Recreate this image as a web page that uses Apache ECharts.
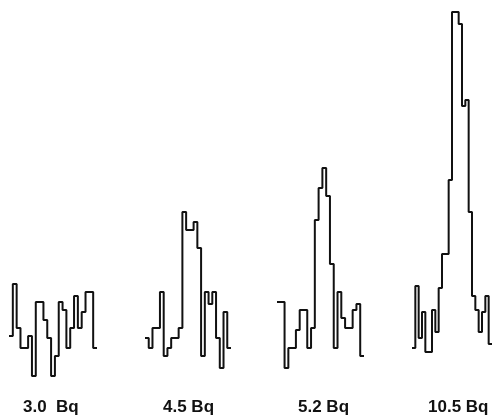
<!DOCTYPE html>
<html>
<head>
<meta charset="utf-8">
<script src="https://cdn.jsdelivr.net/npm/echarts@6/dist/echarts.min.js"></script>
<style>
  html, body { margin: 0; padding: 0; background: #fff; }
  #main { width: 492px; height: 418px; }
</style>
</head>
<body>
<div id="main"></div>
<script>
// counts per channel
var counts_30 = [11, 24, 13, 8, 8, 11, 1, 19.5, 19.5, 15, 10.5, 1, 6, 19.5, 17.5, 8, 13, 21, 13, 17, 22, 22, 8];
var counts_45 = [10.5, 8, 13, 13, 22, 6, 8, 10.5, 10.5, 13, 42, 37.5, 37.5, 39.5, 33, 6, 22, 19, 22, 10.5, 3, 17, 8];
var counts_52 = [19.5, 19.5, 3, 8, 8, 12.5, 17.5, 17.5, 8, 13, 40, 48, 53, 46, 29, 8, 22, 15.5, 13, 13, 17.5, 19, 6];
var counts_105 = [8, 23.5, 10.5, 17, 7, 7, 17.5, 12, 23, 31.5, 31.5, 50, 92, 92, 89, 68.5, 70, 42, 21, 17.5, 12, 17, 21, 9];
var labels = ['3.0  Bq', '4.5 Bq', '5.2 Bq', '10.5 Bq'];

var chartDom = document.getElementById('main');
var myChart = echarts.init(chartDom);

var panels = [counts_30, counts_45, counts_52, counts_105];
var gridPos = [
  { left: 9, width: 88 },
  { left: 145, width: 86 },
  { left: 277, width: 87 },
  { left: 412, width: 80 }
];
var labelLeft = [23, 163, 298, 428];

function stepData(arr) {
  var d = arr.map(function (v, i) { return [i, v]; });
  d.push([arr.length, arr[arr.length - 1]]);
  return d;
}

var option = {
  backgroundColor: '#ffffff',
  animation: false,
  title: labels.map(function (t, i) {
    return {
      text: t,
      left: labelLeft[i],
      top: 399,
      padding: 0,
      textStyle: { fontFamily: 'Liberation Sans', fontWeight: 'bold', fontSize: 17, color: '#111' }
    };
  }),
  grid: gridPos.map(function (g) {
    return { left: g.left, width: g.width, top: 10, height: 370 };
  }),
  xAxis: panels.map(function (p, i) {
    return { type: 'value', gridIndex: i, min: 0, max: p.length, show: false };
  }),
  yAxis: panels.map(function (p, i) {
    return { type: 'value', gridIndex: i, min: 0, max: 92.5, show: false };
  }),
  series: panels.map(function (p, i) {
    return {
      type: 'line',
      xAxisIndex: i,
      yAxisIndex: i,
      step: 'end',
      symbol: 'none',
      lineStyle: { color: '#111', width: 2 },
      data: stepData(p)
    };
  })
};

myChart.setOption(option);
</script>
</body>
</html>
